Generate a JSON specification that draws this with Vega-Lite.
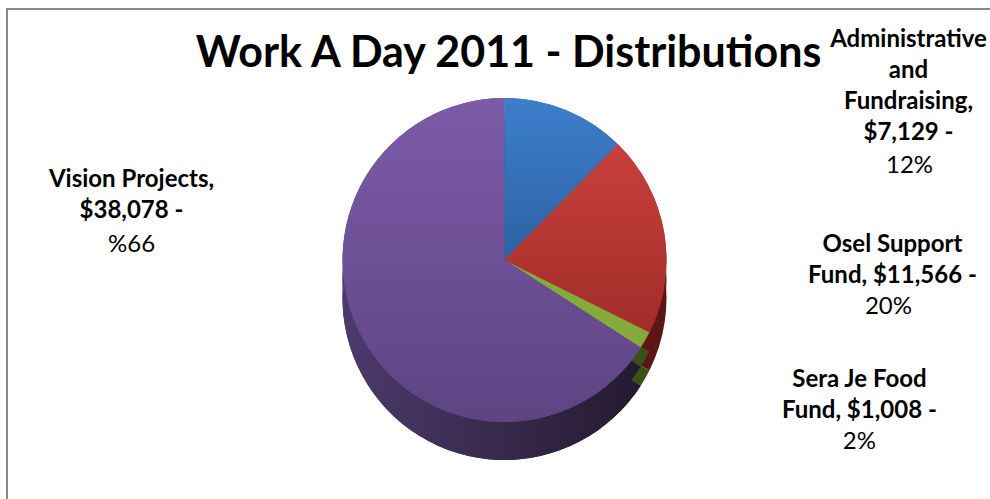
{
  "$schema": "https://vega.github.io/schema/vega-lite/v6.json",
  "width": 995,
  "height": 502,
  "autosize": {"type": "none"},
  "padding": {"left": 7, "top": 9, "right": -12, "bottom": -12},
  "background": "white",
  "title": {"text": "Work A Day 2011 - Distributions", "font": "Lato", "fontSize": 43, "fontWeight": "bold", "color": "#000000", "anchor": "middle", "frame": "group", "baseline": "alphabetic", "offset": -102, "dx": 4},
  "data": {"values": [
    {"name": "Administrative and Fundraising", "value": 7129, "label": "Administrative\nand\nFundraising,\n$7,129 -", "pct": "12%"},
    {"name": "Osel Support Fund", "value": 11566, "label": "Osel Support\nFund, $11,566 -", "pct": "20%"},
    {"name": "Sera Je Food Fund", "value": 1008, "label": "Sera Je Food\nFund, $1,008 -", "pct": "2%"},
    {"name": "Vision Projects", "value": 38078, "label": "Vision Projects,\n$38,078 -", "pct": "%66"}
  ]},
  "transform": [
    {"stack": "value", "groupby": [], "sort": [{"field": "name", "order": "ascending"}], "as": ["v0", "v1"]}
  ],
  "layer": [
    {"data": {"values": [{"frame": "border"}]},
     "transform": [],
     "mark": {"type": "rect", "fill": null, "stroke": "#878787", "strokeWidth": 2},
     "encoding": {}},
    {"mark": {"type": "arc", "outerRadius": 162, "yOffset": 38},
     "encoding": {
       "theta": {"field": "v0", "type": "quantitative", "stack": null, "scale": {"domain": [0, 57781]}},
       "theta2": {"field": "v1"},
       "color": {"field": "name", "type": "nominal", "legend": null,
       "scale": {"domain": ["Administrative and Fundraising", "Osel Support Fund", "Sera Je Food Fund", "Vision Projects"], "range": ["#1F4470", "#5E1614", "#3A5216", "#37284D"]}}}},
    {"mark": {"type": "arc", "outerRadius": 162, "yOffset": 19},
     "encoding": {
       "theta": {"field": "v0", "type": "quantitative", "stack": null},
       "theta2": {"field": "v1"},
       "color": {"field": "name", "type": "nominal", "legend": null}}},
    {"transform": [{"filter": "datum.name === 'Vision Projects'"}],
     "mark": {"type": "arc", "outerRadius": 162, "yOffset": 38,
       "color": {"gradient": "linear", "x1": 0, "y1": 0, "x2": 1, "y2": 0, "stops": [{"offset": 0, "color": "#4C3A6C"}, {"offset": 1, "color": "#241A30"}]}},
     "encoding": {
       "theta": {"field": "v0", "type": "quantitative", "stack": null},
       "theta2": {"field": "v1"}}},
    {"transform": [{"filter": "datum.name === 'Vision Projects'"}],
     "mark": {"type": "arc", "outerRadius": 162, "yOffset": 19,
       "color": {"gradient": "linear", "x1": 0, "y1": 0, "x2": 1, "y2": 0, "stops": [{"offset": 0, "color": "#4C3A6C"}, {"offset": 1, "color": "#241A30"}]}},
     "encoding": {
       "theta": {"field": "v0", "type": "quantitative", "stack": null},
       "theta2": {"field": "v1"}}},
    {"mark": {"type": "arc", "outerRadius": 162},
     "encoding": {
       "theta": {"field": "v0", "type": "quantitative", "stack": null},
       "theta2": {"field": "v1"},
       "fill": {"field": "name", "type": "nominal", "legend": null,
       "scale": {"domain": ["Administrative and Fundraising", "Osel Support Fund", "Sera Je Food Fund", "Vision Projects"], "range": ["#3672B8", "#BA3633", "#84AA3C", "#6C4D94"]}}}},
    {"transform": [{"filter": "datum.name === 'Vision Projects'"}],
     "mark": {"type": "arc", "outerRadius": 162,
       "color": {"gradient": "linear", "x1": 0, "y1": 0, "x2": 0, "y2": 1, "stops": [{"offset": 0, "color": "#7C5BA7"}, {"offset": 1, "color": "#5E4483"}]}},
     "encoding": {
       "theta": {"field": "v0", "type": "quantitative", "stack": null},
       "theta2": {"field": "v1"}}},
    {"transform": [{"filter": "datum.name === 'Administrative and Fundraising'"}],
     "mark": {"type": "arc", "outerRadius": 162,
       "color": {"gradient": "linear", "x1": 0, "y1": 0, "x2": 0, "y2": 1, "stops": [{"offset": 0, "color": "#3C7ECB"}, {"offset": 1, "color": "#2D62A3"}]}},
     "encoding": {
       "theta": {"field": "v0", "type": "quantitative", "stack": null},
       "theta2": {"field": "v1"}}},
    {"transform": [{"filter": "datum.name === 'Osel Support Fund'"}],
     "mark": {"type": "arc", "outerRadius": 162,
       "color": {"gradient": "linear", "x1": 0, "y1": 0, "x2": 0, "y2": 1, "stops": [{"offset": 0, "color": "#C7403C"}, {"offset": 1, "color": "#A22C29"}]}},
     "encoding": {
       "theta": {"field": "v0", "type": "quantitative", "stack": null},
       "theta2": {"field": "v1"}}},
    {"transform": [{"filter": "datum.name === 'Administrative and Fundraising'"}],
     "mark": {"type": "text", "radius": 220, "dx": 404, "dy": 7, "align": "center", "baseline": "alphabetic", "font": "Lato", "fontWeight": "bold", "fontSize": 24, "lineHeight": 31, "lineBreak": "\n", "color": "#000000"},
     "encoding": {"theta": {"field": "v0", "type": "quantitative", "stack": null}, "text": {"field": "label"}}},
    {"transform": [{"filter": "datum.name === 'Administrative and Fundraising'"}],
     "mark": {"type": "text", "radius": 220, "dx": 405, "dy": 133, "align": "center", "baseline": "alphabetic", "font": "Lato", "fontSize": 24, "color": "#000000"},
     "encoding": {"theta": {"field": "v0", "type": "quantitative", "stack": null}, "text": {"field": "pct"}}},
    {"transform": [{"filter": "datum.name === 'Osel Support Fund'"}],
     "mark": {"type": "text", "radius": 220, "dx": 234, "dy": 149, "align": "center", "baseline": "alphabetic", "font": "Lato", "fontWeight": "bold", "fontSize": 24, "lineHeight": 31, "lineBreak": "\n", "color": "#000000"},
     "encoding": {"theta": {"field": "v0", "type": "quantitative", "stack": null}, "text": {"field": "label"}}},
    {"transform": [{"filter": "datum.name === 'Osel Support Fund'"}],
     "mark": {"type": "text", "radius": 220, "dx": 230, "dy": 211, "align": "center", "baseline": "alphabetic", "font": "Lato", "fontSize": 24, "color": "#000000"},
     "encoding": {"theta": {"field": "v0", "type": "quantitative", "stack": null}, "text": {"field": "pct"}}},
    {"transform": [{"filter": "datum.name === 'Sera Je Food Fund'"}],
     "mark": {"type": "text", "radius": 220, "dx": 158, "dy": 29, "align": "center", "baseline": "alphabetic", "font": "Lato", "fontWeight": "bold", "fontSize": 24, "lineHeight": 31, "lineBreak": "\n", "color": "#000000"},
     "encoding": {"theta": {"field": "v0", "type": "quantitative", "stack": null}, "text": {"field": "label"}}},
    {"transform": [{"filter": "datum.name === 'Sera Je Food Fund'"}],
     "mark": {"type": "text", "radius": 220, "dx": 158, "dy": 91, "align": "center", "baseline": "alphabetic", "font": "Lato", "fontSize": 24, "color": "#000000"},
     "encoding": {"theta": {"field": "v0", "type": "quantitative", "stack": null}, "text": {"field": "pct"}}},
    {"transform": [{"filter": "datum.name === 'Vision Projects'"}],
     "mark": {"type": "text", "radius": 220, "dx": -558, "dy": -192, "align": "center", "baseline": "alphabetic", "font": "Lato", "fontWeight": "bold", "fontSize": 24, "lineHeight": 31, "lineBreak": "\n", "color": "#000000"},
     "encoding": {"theta": {"field": "v0", "type": "quantitative", "stack": null}, "text": {"field": "label"}}},
    {"transform": [{"filter": "datum.name === 'Vision Projects'"}],
     "mark": {"type": "text", "radius": 220, "dx": -558, "dy": -127, "align": "center", "baseline": "alphabetic", "font": "Lato", "fontSize": 24, "color": "#000000"},
     "encoding": {"theta": {"field": "v0", "type": "quantitative", "stack": null}, "text": {"field": "pct"}}}
  ]
}
